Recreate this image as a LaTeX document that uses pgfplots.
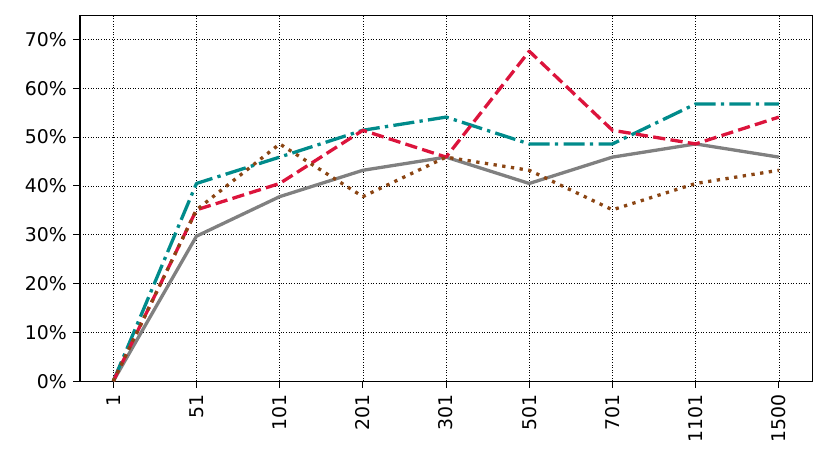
\documentclass[border=0pt]{standalone}
\usepackage{fontspec}
\setmainfont{DejaVu Sans}
\usepackage{pgfplots}
\pgfplotsset{compat=1.18}
\definecolor{cgray}{RGB}{128,128,128}
\definecolor{cteal}{RGB}{0,139,139}
\definecolor{cred}{RGB}{220,20,60}
\definecolor{cbrown}{RGB}{139,69,19}
\begin{document}
\begin{tikzpicture}
\begin{axis}[
  scale only axis,
  width=388pt, height=194pt,
  xmin=-0.4, xmax=8.4,
  ymin=0, ymax=75,
  xtick={0,...,8},
  xticklabels={1,51,101,201,301,501,701,1101,1500},
  x tick label style={rotate=90, anchor=east},
  ytick={0,10,...,70},
  yticklabel={\pgfmathprintnumber{\tick}\%},
  /pgf/number format/assume math mode=true,
  tick align=outside,
  tick pos=left,
  major tick length=3.5pt,
  tick style={black, line width=0.6pt},
  axis line style={line width=0.6pt},
  grid=major,
  grid style={densely dotted, black, line width=0.35pt},
  tick label style={font=\fontsize{10}{12}\selectfont},
  every axis plot/.append style={line width=1.75pt, line cap=butt, line join=round},
]
\addplot[cgray] coordinates {(0,0) (1,29.7) (2,37.8) (3,43.2) (4,45.9) (5,40.5) (6,45.9) (7,48.6) (8,45.9)};
\addplot[cteal, dash pattern=on 11.2pt off 2.8pt on 1.75pt off 2.8pt] coordinates {(0,0) (1,40.5) (2,45.9) (3,51.4) (4,54.1) (5,48.6) (6,48.6) (7,56.8) (8,56.8)};
\addplot[cred, dash pattern=on 6.5pt off 2.8pt] coordinates {(0,0) (1,35.1) (2,40.5) (3,51.4) (4,45.9) (5,67.6) (6,51.4) (7,48.6) (8,54.1)};
\addplot[cbrown, dash pattern=on 1.75pt off 2.9pt] coordinates {(0,0) (1,35.1) (2,48.6) (3,37.8) (4,45.9) (5,43.2) (6,35.1) (7,40.5) (8,43.2)};
\coordinate (sw) at (rel axis cs:0,0);
\coordinate (ne) at (rel axis cs:1,1);
\end{axis}
\pgfresetboundingbox
\path ([xshift=-42.4pt,yshift=-46.1pt]sw) rectangle ([xshift=10pt,yshift=8pt]ne);
\end{tikzpicture}
\end{document}
